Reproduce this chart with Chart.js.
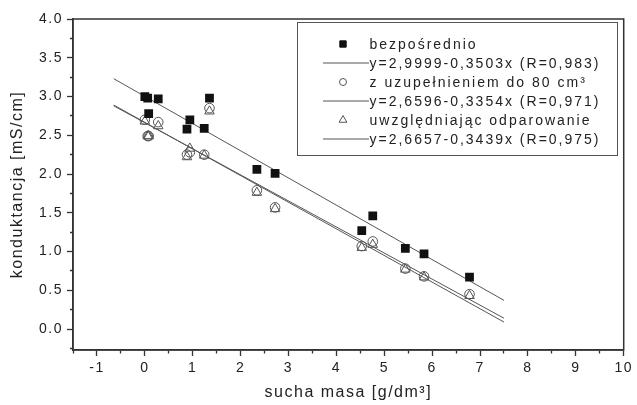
<!DOCTYPE html>
<html>
<head>
<meta charset="utf-8">
<script src="https://cdn.jsdelivr.net/npm/chart.js@4.4.1/dist/chart.umd.min.js"></script>
<style>
  html, body { margin: 0; padding: 0; background: #fff; }
  #wrap { width: 637px; height: 405px; }
</style>
</head>
<body>
<div id="wrap"><canvas id="ChartKonduktancja"></canvas></div>
<script>
(function () {
  "use strict";

  // Data
  const suchaMasa      = [0.00, 0.06, 0.08, 0.28, 0.88, 0.94, 1.24, 1.35, 2.34, 2.72, 4.53, 4.76, 5.44, 5.83, 6.78];
  const bezposrednio   = [3.00, 2.98, 2.78, 2.97, 2.58, 2.70, 2.59, 2.98, 2.06, 2.01, 1.27, 1.46, 1.04, 0.97, 0.67];
  const zUzupelnieniem = [2.70, 2.49, 2.49, 2.67, 2.25, 2.28, 2.25, 2.85, 1.79, 1.57, 1.07, 1.13, 0.78, 0.68, 0.45];
  const odparowanie    = [2.68, 2.49, 2.49, 2.62, 2.22, 2.33, 2.24, 2.81, 1.76, 1.55, 1.05, 1.09, 0.77, 0.67, 0.43];

  // fitted lines: end points as drawn
  const fitX           = [-0.65, 7.5];
  const fitBezposr     = [3.23, 0.37];
  const fitUzupel      = [2.88, 0.14];
  const fitOdpar       = [2.89, 0.09];

  const seriesLabels = [
    'bezpośrednio',
    'y=2,9999-0,3503x (R=0,983)',
    'z uzupełnieniem do 80 cm³',
    'y=2,6596-0,3354x (R=0,971)',
    'uwzględniając odparowanie',
    'y=2,6657-0,3439x (R=0,975)'
  ];

  const text_dark  = '#222222';
  const line_gray  = '#555555';
  const font_face  = '"Liberation Sans", Arial, sans-serif';

  function toPoints(xs, ys) {
    return xs.map(function (x, i) { return { x: x, y: ys[i] }; });
  }

  function isWhole(v) {
    return Math.abs(v - Math.round(v)) < 1e-9;
  }

  // Letter spacing like the original export
  const spacing = {
    id: 'spacing',
    beforeUpdate(chart) { chart.ctx.letterSpacing = '1.5px'; },
    beforeDraw(chart) { chart.ctx.letterSpacing = '1.5px'; }
  };

  // Frame round the plot area
  const frame = {
    id: 'frame',
    afterDraw(chart) {
      const ctx = chart.ctx;
      const a = chart.chartArea;
      ctx.save();
      ctx.strokeStyle = '#333';
      ctx.lineWidth = 1.5;
      ctx.strokeRect(a.left, a.top, a.right - a.left, a.bottom - a.top);
      ctx.restore();
    }
  };

  // Legend box like the original
  const legendBox = {
    id: 'legendBox',
    afterDraw(chart, args, opts) {
      const ctx = chart.ctx;
      ctx.save();
      ctx.strokeStyle = line_gray;
      ctx.lineWidth = 1;
      ctx.strokeRect(opts.left, opts.top, opts.width, opts.height);
      ctx.font = opts.font;
      ctx.letterSpacing = opts.letterSpacing;
      ctx.textBaseline = 'middle';
      chart.data.datasets.forEach(function (ds, i) {
        const y = opts.top + opts.rowStart + i * opts.rowHeight;
        if (ds.showLine) {
          ctx.strokeStyle = ds.borderColor;
          ctx.lineWidth = 1;
          ctx.beginPath();
          ctx.moveTo(opts.left + opts.lineFrom, y);
          ctx.lineTo(opts.left + opts.lineTo, y);
          ctx.stroke();
        } else {
          ctx.fillStyle = ds.backgroundColor;
          ctx.strokeStyle = ds.borderColor;
          ctx.lineWidth = 1;
          Chart.helpers.drawPoint(ctx, {
            pointStyle: ds.pointStyle,
            radius: opts.symbolRadius[ds.pointStyle],
            rotation: 0,
            borderWidth: 1
          }, opts.left + opts.symbolX, y);
        }
        ctx.fillStyle = text_dark;
        ctx.fillText(ds.label, opts.left + opts.textX, y + 1);
      });
      ctx.restore();
    }
  };

  const ctx = document.getElementById('ChartKonduktancja').getContext('2d');
  new Chart(ctx, {
    type: 'scatter',
    data: {
      datasets: [{
        label: seriesLabels[0],
        data: toPoints(suchaMasa, bezposrednio),
        pointStyle: 'rect',
        pointRadius: 6.2,
        backgroundColor: '#111111',
        borderColor: '#111111',
        borderWidth: 0
      }, {
        label: seriesLabels[1],
        data: toPoints(fitX, fitBezposr),
        showLine: true,
        pointRadius: 0,
        borderColor: line_gray,
        borderWidth: 1
      }, {
        label: seriesLabels[2],
        data: toPoints(suchaMasa, zUzupelnieniem),
        pointStyle: 'circle',
        pointRadius: 4.8,
        backgroundColor: 'rgba(0,0,0,0)',
        borderColor: line_gray,
        borderWidth: 1
      }, {
        label: seriesLabels[3],
        data: toPoints(fitX, fitUzupel),
        showLine: true,
        pointRadius: 0,
        borderColor: line_gray,
        borderWidth: 1
      }, {
        label: seriesLabels[4],
        data: toPoints(suchaMasa, odparowanie),
        pointStyle: 'triangle',
        pointRadius: 5.5,
        backgroundColor: 'rgba(0,0,0,0)',
        borderColor: line_gray,
        borderWidth: 1
      }, {
        label: seriesLabels[5],
        data: toPoints(fitX, fitOdpar),
        showLine: true,
        pointRadius: 0,
        borderColor: line_gray,
        borderWidth: 1
      }]
    },
    options: {
      responsive: true,
      maintainAspectRatio: false,
      animation: false,
      layout: {
        padding: { top: 19, right: 10, left: 0, bottom: 0 }
      },
      scales: {
        x: {
          type: 'linear',
          min: -1.5,
          max: 10,
          afterFit: function (scale) { scale.height = 55; },
          border: { display: true, color: '#333', width: 1.5 },
          grid: {
            drawOnChartArea: false,
            tickLength: 6,
            tickColor: '#333',
            tickWidth: 1.3,
            tickBorderDash: (c) => (c.tick && isWhole(c.tick.value)) ? [] : [3, 3],
            tickBorderDashOffset: 0
          },
          ticks: {
            stepSize: 0.5,
            autoSkip: false,
            maxRotation: 0,
            padding: 4,
            color: text_dark,
            font: { family: font_face, size: 14 },
            callback: (v) => isWhole(v) ? String(Math.round(v)) : ''
          },
          title: {
            display: true,
            text: 'sucha masa [g/dm³]',
            color: text_dark,
            font: { family: font_face, size: 16 },
            padding: { top: 4, bottom: 3 }
          }
        },
        y: {
          type: 'linear',
          min: -0.27,
          max: 4.0,
          afterFit: function (scale) { scale.width = 73; },
          border: { display: true, color: '#333', width: 1.5 },
          grid: {
            drawOnChartArea: false,
            tickLength: 6,
            tickColor: '#333',
            tickWidth: 1.3,
            tickBorderDash: (c) => (c.tick && isWhole(c.tick.value * 2)) ? [] : [3, 3],
            tickBorderDashOffset: (c) => (c.tick && isWhole(c.tick.value * 2)) ? 0 : 3
          },
          ticks: {
            stepSize: 0.25,
            includeBounds: false,
            autoSkip: false,
            padding: 4,
            color: text_dark,
            font: { family: font_face, size: 14 },
            callback: (v) => isWhole(v * 2) ? v.toFixed(1) : ''
          },
          title: {
            display: true,
            text: 'konduktancja [mS/cm]',
            color: text_dark,
            font: { family: font_face, size: 16 },
            padding: { top: 8, bottom: 4 }
          }
        }
      },
      plugins: {
        legend: { display: false },
        tooltip: { enabled: false },
        legendBox: {
          left: 297.5,
          top: 22.5,
          width: 320,
          height: 133,
          rowStart: 21.5,
          rowHeight: 19,
          symbolX: 45.5,
          lineFrom: 25.5,
          lineTo: 71.5,
          textX: 72,
          symbolRadius: { rect: 4.5, circle: 3.5, triangle: 4.5 },
          font: '14px ' + font_face,
          letterSpacing: '2px'
        }
      }
    },
    plugins: [spacing, frame, legendBox]
  });

})();
</script>
</body>
</html>
